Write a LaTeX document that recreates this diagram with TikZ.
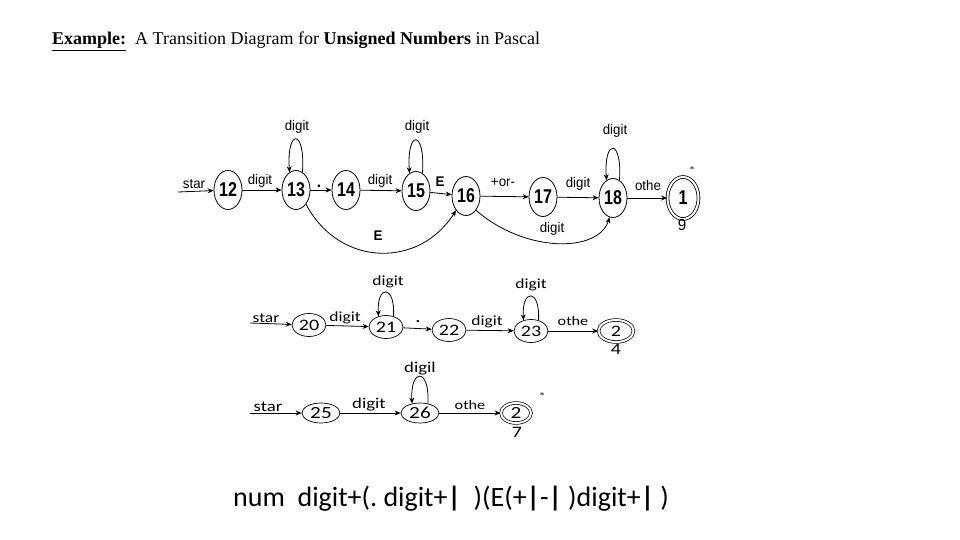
\documentclass[tikz,border=0pt]{standalone}
\usepackage{fontspec}
\setmainfont{Liberation Serif}
\newfontfamily\narrowf[FakeStretch=0.8]{Liberation Sans}
\newfontfamily\topl[FakeStretch=0.95]{Liberation Sans}
\newfontfamily\widef[FakeStretch=1.25]{Carlito}
\newfontfamily\carl{Carlito}
\usetikzlibrary{shapes.geometric,arrows.meta}
\newcommand\fsz[1]{\fontsize{#1}{#1}\selectfont}
\tikzset{
  arr/.style={-{Stealth[length=6pt,width=5pt]}, line width=0.8pt},
  topst/.style={ellipse, draw, line width=0.8pt, minimum width=28pt, minimum height=39pt, inner sep=0pt, font=\narrowf\bfseries\fsz{20}},
  topacc/.style={topst, double, double distance=2pt, minimum width=31pt, minimum height=42pt},
  midst/.style={ellipse, draw, line width=0.7pt, minimum width=34pt, minimum height=23pt, inner sep=0pt, font=\widef\fsz{16}},
  midacc/.style={midst, double, double distance=2pt, minimum width=35pt, minimum height=22pt},
  botst/.style={ellipse, draw, line width=0.7pt, minimum width=38pt, minimum height=20pt, inner sep=0pt, font=\widef\fsz{17}},
  botacc/.style={botst, double, double distance=2pt, minimum width=30pt, minimum height=20pt},
  toplab/.style={inner sep=0pt, font=\topl\fsz{14}},
  midlab/.style={inner sep=0pt, font=\widef\fsz{14}},
  botlab/.style={inner sep=0pt, font=\widef\fsz{15}},
}
\begin{document}
\begin{tikzpicture}[x=1pt,y=-1pt]
\useasboundingbox (0,0) rectangle (960,540);
% title
\node[anchor=base west, inner sep=0pt, font=\fsz{18}] (title) at (52,45)
  {\textbf{\underline{Example:}}\ \ A Transition Diagram for \textbf{Unsigned Numbers} in Pascal};

% ---------- top diagram ----------
\node[topst] (n12) at (228,190) {12};
\node[topst] (n13) at (296,190) {13};
\node[topst] (n14) at (346,190) {14};
\node[topst] (n15) at (416,191) {15};
\node[topst] (n16) at (466,196) {16};
\node[topst] (n17) at (543,197) {17};
\node[topst] (n18) at (613,198) {18};
\node[topacc] (n19) at (683,198) {1};
\node[toplab, font=\topl\fsz{16}] (n19b) at (682,225) {9};
\node[inner sep=0pt, font=\fsz{9}] (n19s) at (692,170) {*};

\coordinate (s1) at (178,192);
\draw[arr] (s1) -- (n12);
\draw[arr] (n12) -- (n13);
\draw[arr] (n13) -- (n14);
\draw[arr] (n14) -- (n15);
\draw[arr] (n15) -- (n16);
\draw[arr] (n16) -- (n17);
\draw[arr] (n17) -- (n18);
\draw[arr] (n18) -- (n19);
\draw[arr] (n13.70) .. controls +(3,-44) and +(-3,-44) .. (n13.110);
\draw[arr] (n15.70) .. controls +(3,-44) and +(-3,-44) .. (n15.110);
\draw[arr] (n18.70) .. controls +(3,-42) and +(-3,-42) .. (n18.110);
\draw[arr] (n13.-55) .. controls (340,268) and (420,268) .. (n16.-125);
\draw[arr] (n16.-55) .. controls (525,253) and (598,253) .. (n18.-100);

\node[toplab] (ls1) at (194,184) {star};
\node[toplab] (l1213) at (260,181) {digit};
\node[toplab, font=\topl\bfseries\fsz{16}] (l1314) at (319,186) {.};
\node[toplab] (l1415) at (380,181) {digit};
\node[toplab, font=\topl\bfseries\fsz{14}] (l1516) at (440,182) {E};
\node[toplab] (l1617) at (503,183) {+or-};
\node[toplab] (l1718) at (578,184) {digit};
\node[toplab] (l1819) at (648,185) {othe};
\node[toplab] (lp13) at (297,127) {digit};
\node[toplab] (lp15) at (417,127) {digit};
\node[toplab] (lp18) at (615,131) {digit};
\node[toplab, font=\topl\bfseries\fsz{14}] (lE) at (378,236) {E};
\node[toplab] (lD) at (552,229) {digit};

% ---------- middle diagram ----------
\node[midst] (n20) at (309,325) {20};
\node[midst] (n21) at (386,327) {21};
\node[midst] (n22) at (449,330) {22};
\node[midst] (n23) at (531,331) {23};
\node[midacc] (n24) at (616,331) {2};
\node[midlab, font=\widef\fsz{16}] (n24b) at (616,349) {4};

\coordinate (s2) at (250,323);
\draw[arr] (s2) -- (n20);
\draw[arr] (n20) -- (n21);
\draw[arr] (n21) -- (n22);
\draw[arr] (n22) -- (n23);
\draw[arr] (n23) -- (n24);
\draw[arr] (n21.55) .. controls +(2,-32) and +(-2,-32) .. (n21.125);
\draw[arr] (n23.55) .. controls +(2,-32) and +(-2,-32) .. (n23.125);

\node[midlab] (ls2) at (266,318) {star};
\node[midlab] (l2021) at (345,318) {digit};
\node[midlab, font=\widef\bfseries\fsz{14}] (l2122) at (418,322) {.};
\node[midlab] (l2223) at (487,322) {digit};
\node[midlab, font=\widef\fsz{13}] (l2324) at (573,321) {othe};
\node[midlab] (lp21) at (388,282) {digit};
\node[midlab] (lp23) at (531,285) {digit};

% ---------- bottom diagram ----------
\node[botst] (n25) at (321,413) {25};
\node[botst] (n26) at (420,413) {26};
\node[botacc] (n27) at (516,413) {2};
\node[botlab, font=\widef\fsz{16}] (n27b) at (517,432) {7};
\node[inner sep=0pt, font=\fsz{9}] (n27s) at (542,396) {*};

\coordinate (s3) at (250,413);
\draw[arr] (s3) -- (n25);
\draw[arr] (n25) -- (n26);
\draw[arr] (n26) -- (n27);
\draw[arr] (n26.50) .. controls +(2,-36) and +(-2,-36) .. (n26.130);

\node[botlab] (ls3) at (268,407) {star};
\node[botlab] (l2526) at (369,405) {digit};
\node[botlab, font=\widef\fsz{13}] (l2627) at (470,405) {othe};
\node[botlab] (lp26) at (420,369) {digil};

% ---------- regular expression ----------
\node[anchor=base west, inner sep=0pt, font=\carl\fsz{28}] (regex) at (233,506)
  {num\ \ digit+(.\ digit+\textbf{|}\ \ )(E(+\textbf{|}-\textbf{|}\ )digit+\textbf{|}\ )};
\end{tikzpicture}
\end{document}
